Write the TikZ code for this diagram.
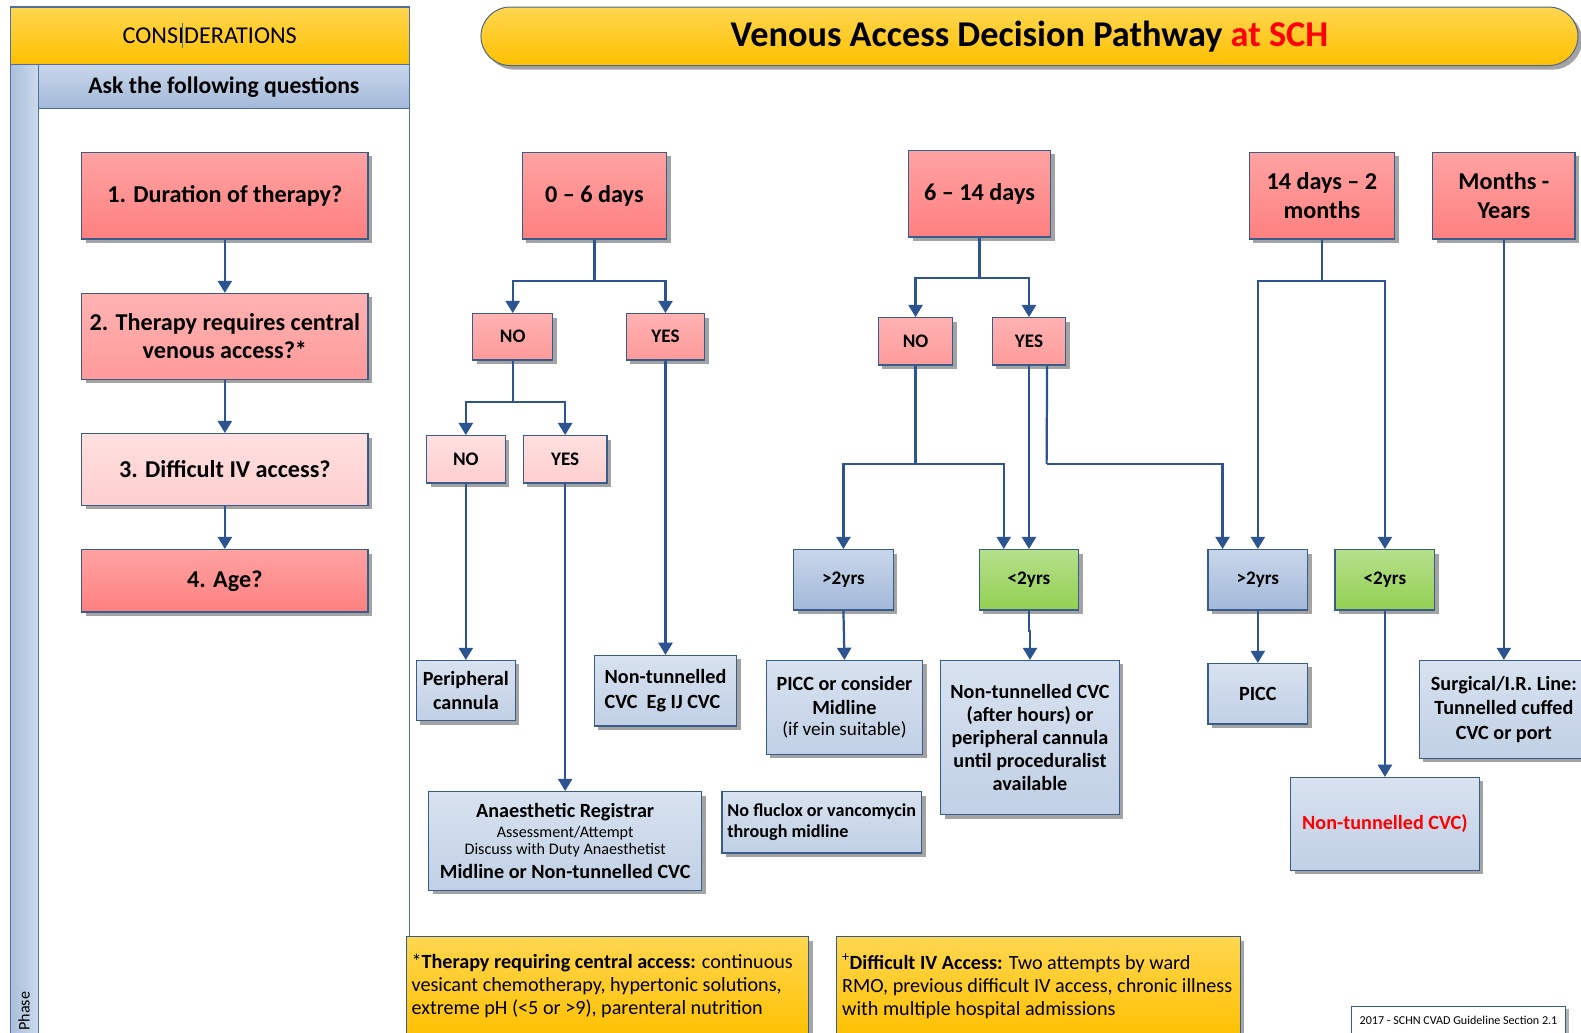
\documentclass[tikz,border=0pt]{standalone}
\usepackage{fontspec}
\setmainfont{Carlito}
\usetikzlibrary{arrows.meta,shadows}
\definecolor{bord}{HTML}{385D8A}
\definecolor{arrc}{HTML}{2C5491}
\definecolor{redA}{HTML}{FFA2A2}
\definecolor{redB}{HTML}{FF8080}
\definecolor{redlA}{HTML}{FFB2B2}
\definecolor{redlB}{HTML}{FF9A9A}
\definecolor{pinkA}{HTML}{FFE0E0}
\definecolor{pinkB}{HTML}{FFCECE}
\definecolor{blueA}{HTML}{C8D6EA}
\definecolor{blueB}{HTML}{A3B9D9}
\definecolor{bluelA}{HTML}{D8E2F0}
\definecolor{bluelB}{HTML}{C1D0E5}
\definecolor{greenA}{HTML}{B6E08C}
\definecolor{greenB}{HTML}{92D050}
\definecolor{yelA}{HTML}{FFD650}
\definecolor{yelB}{HTML}{FFC000}
\definecolor{stripA}{HTML}{A9BEDA}
\definecolor{stripB}{HTML}{CCDAEC}
\definecolor{panel}{HTML}{4F6FA0}
\newcommand\fsz[2]{\fontsize{#1}{#2}\selectfont}
\begin{document}
\begin{tikzpicture}[x=1pt,y=-1pt,
  box/.style={draw=bord, line width=1.1pt, align=center, inner sep=2pt,
    drop shadow={shadow xshift=4pt, shadow yshift=-4pt, fill=black!40, opacity=0.9}},
  red/.style={box, top color=redA, bottom color=redB},
  redl/.style={box, top color=redlA, bottom color=redlB},
  pink/.style={box, top color=pinkA, bottom color=pinkB},
  blue/.style={box, top color=blueA, bottom color=blueB},
  bluel/.style={box, top color=bluelA, bottom color=bluelB},
  green/.style={box, top color=greenA, bottom color=greenB},
  qfont/.style={font=\fsz{24}{28}\bfseries},
  yfont/.style={font=\fsz{19}{22}\bfseries},
  rfont/.style={font=\fsz{20}{24}\bfseries},
  ln/.style={draw=arrc, line width=2.2pt},
  arr/.style={draw=arrc, line width=2.2pt, -{Triangle[width=14pt,length=12pt]}},
  pline/.style={draw=panel, line width=1.1pt}
]
\useasboundingbox (0,0) rectangle (1568,1024);
\clip (0,0) rectangle (1568,1024);
\fill[white] (0,0) rectangle (1568,1024);

% ---------- left panel ----------
\shade[left color=stripA, right color=stripB] (10,64) rectangle (38,1030);
\shade[top color=blueA, bottom color=blueB] (38,64) rectangle (406,108);
\shade[top color=yelA, bottom color=yelB] (10,7) rectangle (406,64);
\draw[pline] (10,7) rectangle (406,64);
\draw[pline] (10,64) -- (10,1030);
\draw[pline] (38,64) -- (38,1030);
\draw[pline] (38,108) -- (406,108);
\draw[pline] (406,64) -- (406,929);
\node[font=\fsz{24}{28}] (cons) at (208,35) {CONSIDERATIONS};
\draw[draw=panel, line width=0.8pt] (181,23) -- (181,48);
\node[font=\fsz{23.5}{28}\bfseries] (ask) at (222,86) {Ask the following questions};
\node[rotate=90, font=\fsz{16}{18}] (phase) at (24,1003) {Phase};

% ---------- title ----------
\node[draw=bord!70!gray, line width=1pt, rounded corners=29pt, top color=yelA, bottom color=yelB,
  minimum width=1088pt, minimum height=58pt,
  drop shadow={shadow xshift=4pt, shadow yshift=-4pt, fill=black!40, opacity=0.9},
  font=\fsz{36}{40}\bfseries] (title) at (1021,36)
  {Venous Access Decision Pathway \textcolor{red}{at SCH}};

% ---------- questions ----------
\node[red, qfont, minimum width=284pt, minimum height=86pt] (q1) at (223,194) {1. Duration of therapy?};
\node[redl, qfont, minimum width=284pt, minimum height=85pt] (q2) at (223,333.5) {2. Therapy requires central\\venous access?*};
\node[pink, qfont, minimum width=284pt, minimum height=71pt] (q3) at (223,465.5) {3. Difficult IV access?};
\node[red, qfont, minimum width=284pt, minimum height=62pt] (q4) at (223,576) {4. Age?};
\draw[arr] (q1.south) -- (q2.north);
\draw[arr] (q2.south) -- (q3.north);
\draw[arr] (q3.south) -- (q4.north);

% ---------- column 0-6 days ----------
\node[red, qfont, minimum width=143pt, minimum height=86pt] (d06) at (589.5,194) {0 -- 6 days};
\node[redl, yfont, minimum width=79pt, minimum height=46pt] (no1) at (508.5,334) {NO};
\node[redl, yfont, minimum width=78pt, minimum height=46pt] (yes1) at (660,334) {YES};
\node[pink, yfont, minimum width=78pt, minimum height=47pt] (no2) at (462,455.5) {NO};
\node[pink, yfont, minimum width=83pt, minimum height=47pt] (yes2) at (560.5,455.5) {YES};
\node[bluel, rfont, minimum width=98pt, minimum height=60pt] (pc) at (462,685) {Peripheral\\cannula};
\node[bluel, rfont, align=left, minimum width=141pt, minimum height=70pt] (ntc1) at (660,685) {Non-tunnelled\\CVC\ \ Eg IJ CVC};
\node[bluel, minimum width=271pt, minimum height=98pt, font=\fsz{16}{20}\bfseries] (anr) at (560.5,834)
  {{\fsz{20}{22}Anaesthetic Registrar}\\
   {\mdseries Assessment/Attempt}\\[-3pt]
   {\mdseries Discuss with Duty Anaesthetist}\\[3pt]
   {\fsz{20}{22}Midline or Non-tunnelled CVC}};

\coordinate (j1) at (589.5,279);
\draw[ln] (d06.south) -- (j1);
\draw[arr] (j1) -| (no1.north);
\draw[arr] (j1) -| (yes1.north);
\coordinate (j2) at (508.5,399);
\draw[ln] (no1.south) -- (j2);
\draw[arr] (j2) -| (no2.north);
\draw[arr] (j2) -| (yes2.north);
\draw[arr] (no2.south) -- (pc.north);
\draw[arr] (yes2.south) -- (anr.north);
\draw[arr] (yes1.south) -- (ntc1.north);

% ---------- column 6-14 days ----------
\node[red, qfont, minimum width=141pt, minimum height=86pt] (d614) at (971.5,192) {6 -- 14 days};
\node[redl, yfont, minimum width=74pt, minimum height=47pt] (no3) at (908,338.5) {NO};
\node[redl, yfont, minimum width=73pt, minimum height=47pt] (yes3) at (1020.5,338.5) {YES};
\node[blue, yfont, minimum width=99pt, minimum height=60pt] (gt1) at (836.5,575) {>2yrs};
\node[green, yfont, minimum width=99pt, minimum height=60pt] (lt1) at (1020.5,575) {<2yrs};
\node[bluel, minimum width=155pt, minimum height=93pt, font=\fsz{20}{24}\bfseries] (picm) at (837.5,701.5)
  {PICC or consider\\Midline\\[-3pt]{\fsz{19}{22}\mdseries (if vein suitable)}};
\node[bluel, font=\fsz{20}{23}\bfseries, minimum width=177pt, minimum height=153pt] (ntc2) at (1021.5,731.5)
  {Non-tunnelled CVC\\(after hours) or\\peripheral cannula\\until proceduralist\\available};
\node[bluel, align=left, font=\fsz{18}{21}\bfseries, minimum width=198pt, minimum height=61pt] (nofl) at (815,815.5)
  {No fluclox or vancomycin\\through midline};

\coordinate (j3) at (971.5,276);
\draw[ln] (d614.south) -- (j3);
\draw[arr] (j3) -| (no3.north);
\draw[arr] (j3) -| (yes3.north);
\coordinate (j4) at (908,460);
\draw[ln] (no3.south) -- (j4);
\draw[arr] (j4) -| (gt1.north);
\draw[arr] (j4) -| ([xshift=-25pt]lt1.north);
\draw[arr] (yes3.south) -- (lt1.north);
\draw[arr] (gt1.south) -- (picm.north);
\draw[arr] (lt1.south) -- ++(0,20) -| (ntc2.north);

% ---------- column 14 days - 2 months ----------
\node[red, qfont, minimum width=144pt, minimum height=86pt] (d14) at (1311,194) {14 days -- 2\\months};
\node[blue, yfont, minimum width=99pt, minimum height=60pt] (gt2) at (1247.5,575) {>2yrs};
\node[green, yfont, minimum width=99pt, minimum height=60pt] (lt2) at (1373.5,575) {<2yrs};
\node[bluel, rfont, minimum width=99pt, minimum height=60pt] (picc) at (1247.5,688) {PICC};
\node[bluel, rfont, text=red, minimum width=187pt, minimum height=92pt] (ntc3) at (1373.5,817) {Non-tunnelled CVC)};

\coordinate (j5) at (1038,460);
\draw[ln] ([xshift=18pt]yes3.south) -- (j5);
\draw[arr] (j5) -| ([xshift=-35pt]gt2.north);
\coordinate (j6) at (1311,279);
\draw[ln] (d14.south) -- (j6);
\draw[arr] (j6) -| (gt2.north);
\draw[arr] (j6) -| (lt2.north);
\draw[arr] (gt2.south) -- (picc.north);
\draw[arr] (lt2.south) -- (ntc3.north);

% ---------- column months - years ----------
\node[red, qfont, minimum width=141pt, minimum height=86pt] (dmy) at (1491.5,194) {Months -\\Years};
\node[bluel, rfont, minimum width=168pt, minimum height=97pt] (surg) at (1491.5,703.5)
  {Surgical/I.R. Line:\\Tunnelled cuffed\\CVC or port};
\draw[arr] (dmy.south) -- (surg.north);

% ---------- notes ----------
\fill[black!35] (407,933) rectangle (806,1030);
\shade[top color=yelA, bottom color=yelB] (403,929) rectangle (802,1030);
\draw[draw=bord, line width=1pt] (403,1030) -- (403,929) -- (802,929) -- (802,1030);
\node[anchor=north west, align=left, inner sep=0pt, font=\fsz{20}{23}] (n1) at (408,946)
  {*\textbf{Therapy requiring central access:} continuous\\
   vesicant chemotherapy, hypertonic solutions,\\
   extreme pH (<5 or >9), parenteral nutrition};

\fill[black!35] (834,933) rectangle (1234,1030);
\shade[top color=yelA, bottom color=yelB] (830,929) rectangle (1230,1030);
\draw[draw=bord, line width=1pt] (830,1030) -- (830,929) -- (1230,929) -- (1230,1030);
\node[anchor=north west, align=left, inner sep=0pt, font=\fsz{20}{23}] (n2) at (835,946)
  {\textsuperscript{+}\textbf{Difficult IV Access:} Two attempts by ward\\
   RMO, previous difficult IV access, chronic illness\\
   with multiple hospital admissions};

% ---------- footer ----------
\fill[black!30] (1343,1001) rectangle (1556,1030);
\fill[white] (1340,998) rectangle (1553,1030);
\draw[draw=bord, line width=0.8pt] (1340,1030) -- (1340,998) -- (1553,998) -- (1553,1030);
\node[font=\fsz{12}{14}] (foot) at (1446.5,1012) {2017 - SCHN CVAD Guideline Section 2.1};
\end{tikzpicture}
\end{document}
